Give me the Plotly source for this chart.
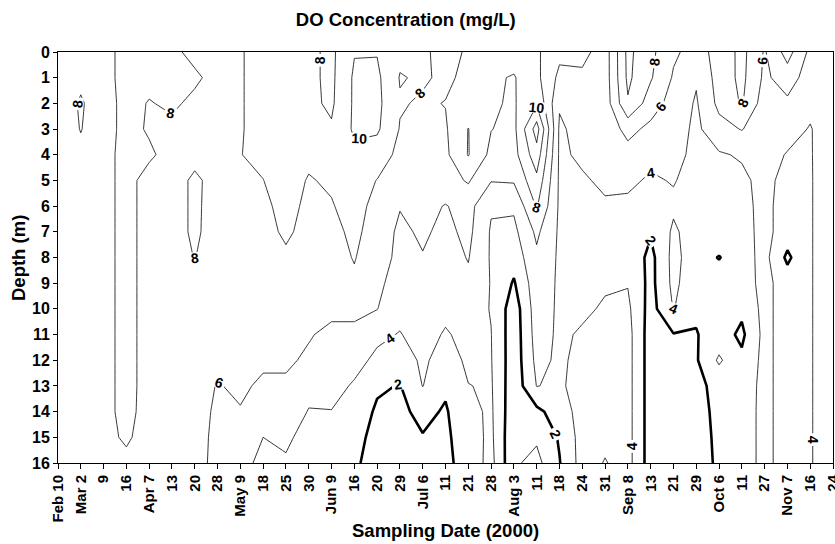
import numpy as np
import plotly.graph_objects as go

FONT = "Liberation Sans, Arial, sans-serif"

# Sampling dates (category axis) and depths (m)
dates = ["Feb 10", "Mar 2", "9", "16", "Apr 7", "13", "20", "28", "May 9", "18", "25", "30",
         "Jun 9", "16", "20", "29", "Jul 6", "11", "21", "28", "Aug 3", "11", "18", "24", "31",
         "Sep 8", "13", "21", "29", "Oct 6", "11", "27", "Nov 7", "16", "24"]
depths = list(range(17))

# DO profiles (mg/L), depth 0..16 m, one list per sampling date
do_feb10 = [7.6, 7.6, 7.2, 7.2, 7.6, 7.6, 7.6, 7.6, 7.6, 7.6, 7.6, 7.6, 7.6, 7.6, 7.6, 7.6, 7.6]
do_mar02 = [7.7, 7.7, 8.15, 8.05, 7.7, 7.7, 7.7, 7.7, 7.7, 7.7, 7.7, 7.7, 7.7, 7.7, 7.7, 7.7, 7.7]
do_mar09 = [7.4, 7.4, 7.2, 7.2, 7.4, 7.4, 7.4, 7.4, 7.4, 7.4, 7.4, 7.4, 7.4, 7.4, 7.4, 7.4, 7.3]
do_mar16 = [8.6, 8.6, 8.6, 8.6, 8.6, 8.6, 8.6, 8.6, 8.6, 8.6, 8.6, 8.6, 8.6, 8.6, 8.6, 8.3, 7.5]
do_apr07 = [8.6, 8.5, 7.9, 7.8, 8.3, 7.3, 7.3, 7.3, 7.3, 7.3, 7.3, 7.3, 7.3, 7.3, 7.2, 7.1, 7.0]
do_apr13 = [8.4, 8.6, 8.3, 7.6, 7.3, 7.3, 7.3, 7.3, 7.3, 7.2, 7.2, 7.1, 7.1, 7.0, 6.9, 6.8, 6.7]
do_apr20 = [7.5, 8.3, 7.6, 7.7, 7.5, 8.3, 8.3, 8.3, 8.05, 7.3, 7.2, 7.1, 7.0, 6.8, 6.7, 6.6, 6.5]
do_apr28 = [7.5, 7.4, 7.4, 7.4, 7.4, 7.4, 7.3, 7.2, 7.1, 7.0, 6.9, 6.7, 6.4, 5.9, 5.7, 5.6, 5.6]
do_may09 = [7.9, 7.9, 7.9, 7.9, 7.97, 7.6, 7.4, 7.3, 7.2, 7.0, 6.9, 6.7, 6.5, 6.3, 5.9, 5.0, 4.5]
do_may18 = [8.5, 8.5, 8.5, 8.5, 8.3, 7.98, 7.6, 7.4, 7.2, 7.0, 6.8, 6.6, 6.3, 5.7, 4.8, 4.0, 3.6]
do_may25 = [8.6, 8.6, 8.6, 8.6, 8.6, 8.6, 8.6, 8.3, 7.7, 7.3, 7.0, 6.7, 6.2, 5.8, 5.2, 4.3, 3.8]
do_may30 = [8.4, 8.4, 8.4, 8.5, 8.3, 7.9, 7.6, 7.4, 7.2, 7.0, 6.6, 6.1, 5.8, 4.6, 3.9, 3.4, 3.0]
do_jun09 = [7.6, 7.6, 7.7, 8.2, 8.4, 8.2, 7.9, 7.5, 7.3, 7.0, 6.3, 5.7, 5.2, 4.6, 3.95, 3.3, 2.9]
do_jun16 = [9.9, 10.3, 10.3, 10.3, 9.6, 8.8, 8.6, 8.4, 8.1, 7.7, 6.3, 5.7, 4.6, 3.8, 3.2, 2.7, 2.3]
do_jun20 = [9.9, 10.4, 10.5, 10.3, 9.0, 7.95, 7.5, 7.2, 6.9, 6.5, 6.05, 4.4, 3.6, 2.3, 1.7, 1.3, 1.2]
do_jun29 = [8.4, 7.9, 8.15, 7.9, 7.5, 7.0, 6.1, 5.6, 5.5, 5.0, 4.6, 3.9, 2.8, 1.9, 1.6, 1.4, 1.3]
do_jul06 = [8.4, 8.2, 7.8, 7.5, 7.2, 6.9, 6.6, 6.3, 5.9, 5.5, 5.1, 4.8, 4.4, 4.05, 2.5, 1.9, 1.5]
do_jul11 = [7.2, 7.7, 8.05, 7.8, 7.6, 7.2, 5.9, 5.5, 5.2, 4.9, 4.5, 3.8, 3.0, 2.3, 1.8, 1.6, 1.5]
do_jul21 = [8.3, 8.4, 8.8, 10.05, 10.1, 8.2, 6.7, 6.5, 6.1, 5.6, 4.9, 4.6, 4.4, 3.95, 3.5, 3.2, 2.9]
do_jul28 = [8.5, 8.1, 8.2, 8.05, 7.5, 6.1, 4.2, 3.8, 3.8, 3.9, 3.9, 4.05, 4.1, 4.2, 4.3, 4.4, 4.6]
do_aug03 = [8.3, 7.95, 7.8, 7.5, 7.3, 6.2, 4.3, 3.5, 2.8, 1.8, 0.9, 0.8, 0.8, 0.7, 0.6, 0.4, 0.3]
do_aug11 = [8.3, 8.5, 9.8, 12.9, 11.2, 9.5, 8.2, 6.4, 5.6, 5.2, 5.0, 4.8, 4.5, 4.05, 1.5, 0.3, -0.6]
do_aug18 = [6.5, 5.5, 4.2, 3.7, 3.7, 3.7, 3.7, 3.7, 3.7, 3.7, 3.7, 3.7, 3.7, 3.7, 3.0, 2.2, 1.9]
do_aug24 = [6.6, 5.6, 5.1, 4.7, 4.3, 3.8, 3.5, 3.5, 3.5, 3.6, 3.7, 4.2, 4.5, 4.8, 4.8, 4.8, 4.8]
do_aug31 = [5.0, 5.0, 4.9, 4.8, 4.6, 4.3, 3.8, 3.6, 3.6, 3.8, 4.2, 4.6, 4.8, 4.8, 4.7, 4.4, 3.9]
do_sep08 = [10.5, 10.4, 9.8, 6.6, 5.3, 4.3, 3.7, 3.5, 3.6, 3.9, 4.4, 4.7, 4.7, 4.7, 4.7, 4.7, 4.7]
do_sep13 = [8.5, 8.2, 7.0, 5.5, 4.4, 3.8, 3.2, 2.2, 1.4, 1.4, 1.2, 1.0, 1.0, 1.0, 1.0, 1.0, 1.0]
do_sep21 = [6.3, 5.8, 5.2, 4.9, 4.6, 4.1, 3.7, 4.3, 4.6, 4.5, 4.1, 1.9, 1.4, 1.2, 1.0, 1.0, 1.0]
do_sep29 = [5.3, 4.2, 3.8, 3.6, 3.5, 3.4, 3.3, 3.1, 2.9, 2.6, 2.3, 1.9, 1.8, 1.5, 1.3, 1.2, 1.2]
do_oct06 = [6.6, 6.8, 6.5, 5.3, 3.8, 3.5, 3.4, 3.3, 1.9, 3.1, 3.0, 2.9, 4.3, 2.6, 2.5, 2.4, 2.3]
do_oct11 = [8.6, 8.5, 8.2, 6.1, 4.2, 3.6, 3.4, 3.3, 3.2, 3.1, 2.4, 1.6, 2.4, 2.9, 3.0, 3.0, 3.0]
do_oct27 = [5.8, 5.6, 5.0, 4.7, 4.6, 4.6, 4.6, 4.6, 4.6, 4.6, 4.6, 4.6, 4.6, 4.6, 4.6, 4.6, 4.6]
do_nov07 = [8.8, 7.0, 5.6, 4.6, 3.9, 3.3, 3.0, 3.0, 1.6, 3.0, 3.0, 3.0, 3.0, 3.0, 3.0, 3.0, 3.0]
do_nov16 = [5.5, 5.0, 4.4, 3.9, 3.9, 3.9, 3.9, 3.9, 3.9, 3.9, 3.9, 3.9, 3.9, 3.9, 3.9, 3.9, 3.9]
do_nov24 = [5.6, 5.4, 5.2, 5.0, 4.9, 4.8, 4.8, 4.8, 4.8, 4.8, 4.8, 4.8, 4.8, 4.8, 4.8, 4.8, 4.8]

profiles = [do_feb10, do_mar02, do_mar09, do_mar16, do_apr07, do_apr13, do_apr20, do_apr28,
            do_may09, do_may18, do_may25, do_may30, do_jun09, do_jun16, do_jun20, do_jun29,
            do_jul06, do_jul11, do_jul21, do_jul28, do_aug03, do_aug11, do_aug18, do_aug24,
            do_aug31, do_sep08, do_sep13, do_sep21, do_sep29, do_oct06, do_oct11, do_oct27,
            do_nov07, do_nov16, do_nov24]

z = np.array(profiles).T  # rows = depth, cols = date
xidx = list(range(len(dates)))


def contour(start, end, width):
    return go.Contour(
        x=xidx, y=depths, z=z,
        autocontour=False,
        contours=dict(coloring="none", start=start, end=end, size=2,
                      showlabels=True,
                      labelfont=dict(size=14, color="black", family=FONT, weight="bold")),
        line=dict(color="black", width=width, smoothing=0),
        showscale=False, hoverinfo="skip",
    )


fig = go.Figure()
fig.add_trace(contour(4, 12, 0.8))
fig.add_trace(contour(0, 0, 0.8))
fig.add_trace(contour(2, 2, 2.6))

xtickfont = dict(size=15, color="black", family=FONT, weight="bold")
ytickfont = dict(size=16, color="black", family=FONT, weight="bold")

fig.update_layout(
    width=835, height=544,
    margin=dict(l=58, r=2, t=52, b=81, autoexpand=False),
    paper_bgcolor="white", plot_bgcolor="white",
    showlegend=False,
    title=dict(text="DO Concentration (mg/L)", x=0.486, xref="container", xanchor="center",
               y=1 - 20 / 544, yref="container", yanchor="middle",
               font=dict(size=18.5, color="black", family=FONT, weight="bold")),
    xaxis=dict(range=[0, len(dates) - 1], tickmode="array", tickvals=xidx, ticktext=dates,
               tickangle=-90, ticks="outside", ticklen=5, tickcolor="black",
               ticklabeloverflow="allow", automargin=False,
               showline=True, linecolor="black", linewidth=1, mirror=True,
               showgrid=False, zeroline=False, tickfont=xtickfont),
    yaxis=dict(range=[16, 0], tickmode="array", tickvals=depths,
               ticks="outside", ticklen=4, tickcolor="black", automargin=False,
               showline=True, linecolor="black", linewidth=1, mirror=True,
               showgrid=False, zeroline=False, tickfont=ytickfont),
    annotations=[
        dict(text="Sampling Date (2000)", xref="paper", yref="paper",
             x=(445 - 58) / 775, y=-(530 - 463) / 411, xanchor="center", yanchor="middle",
             showarrow=False, font=dict(size=18.5, color="black", family=FONT, weight="bold")),
        dict(text="Depth (m)", xref="paper", yref="paper", textangle=-90,
             x=(18 - 58) / 775, y=1 - (258 - 52) / 411, xanchor="center", yanchor="middle",
             showarrow=False, font=dict(size=18.5, color="black", family=FONT, weight="bold")),
    ],
)

fig.write_html("out.html")
